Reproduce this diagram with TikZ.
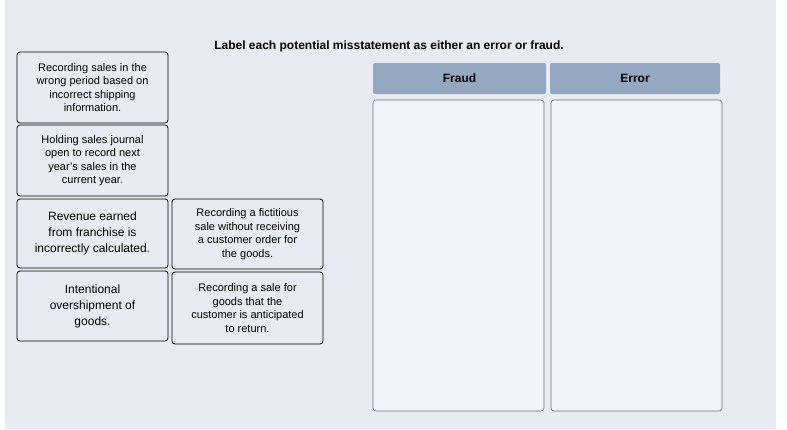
\documentclass[tikz,border=0pt]{standalone}
\usepackage{fontspec}
\setmainfont{Liberation Sans}
\definecolor{bg}{HTML}{E8EBF2}
\definecolor{hdr}{HTML}{94A8C2}
\definecolor{bin}{HTML}{F1F4F8}
\definecolor{edge}{HTML}{6E7278}
\begin{document}
\begin{tikzpicture}[x=1pt,y=-1pt,
  card/.style={draw=black,line width=0.8pt,rounded corners=3pt,fill=bg,align=center,inner sep=0pt,font=\fontsize{11}{13.5}\selectfont},
  head/.style={fill=hdr,rounded corners=2pt,font=\bfseries\fontsize{12}{14}\selectfont,inner sep=0pt},
  binbox/.style={draw=edge,fill=bin,rounded corners=3pt,line width=0.6pt}]
\useasboundingbox (0,0) rectangle (787,429);
\fill[white] (0,0) rectangle (787,429);
\fill[bg] (5,0) rectangle (776,429);
\node[font=\bfseries\fontsize{12}{14}\selectfont] (title) at (389,46) {Label each potential misstatement as either an error or fraud.};
\node[card,minimum width=151,minimum height=71] (c1) at (92.5,87.5) {Recording sales in the\\wrong period based on\\incorrect shipping\\information.};
\node[card,minimum width=151,minimum height=71] (c2) at (92.5,160.5) {Holding sales journal\\open to record next\\year's sales in the\\current year.};
\node[card,minimum width=151,minimum height=69,font=\fontsize{12}{16}\selectfont] (c3) at (92.5,233.5) {Revenue earned\\from franchise is\\incorrectly calculated.};
\node[card,minimum width=151,minimum height=70] (c4) at (247.5,234) {Recording a fictitious\\sale without receiving\\a customer order for\\the goods.};
\node[card,minimum width=151,minimum height=70,font=\fontsize{12}{16}\selectfont] (c5) at (92.5,306) {Intentional\\overshipment of\\goods.};
\node[card,minimum width=151,minimum height=72] (c6) at (247.5,308) {Recording a sale for\\goods that the\\customer is anticipated\\to return.};
\node[head,minimum width=173,minimum height=31] (hf) at (459.5,78.5) {Fraud};
\node[head,minimum width=170,minimum height=31] (he) at (635,78.5) {Error};
\draw[binbox] (373,100) rectangle (544,411);
\draw[binbox] (551,100) rectangle (722,411);
\end{tikzpicture}
\end{document}
